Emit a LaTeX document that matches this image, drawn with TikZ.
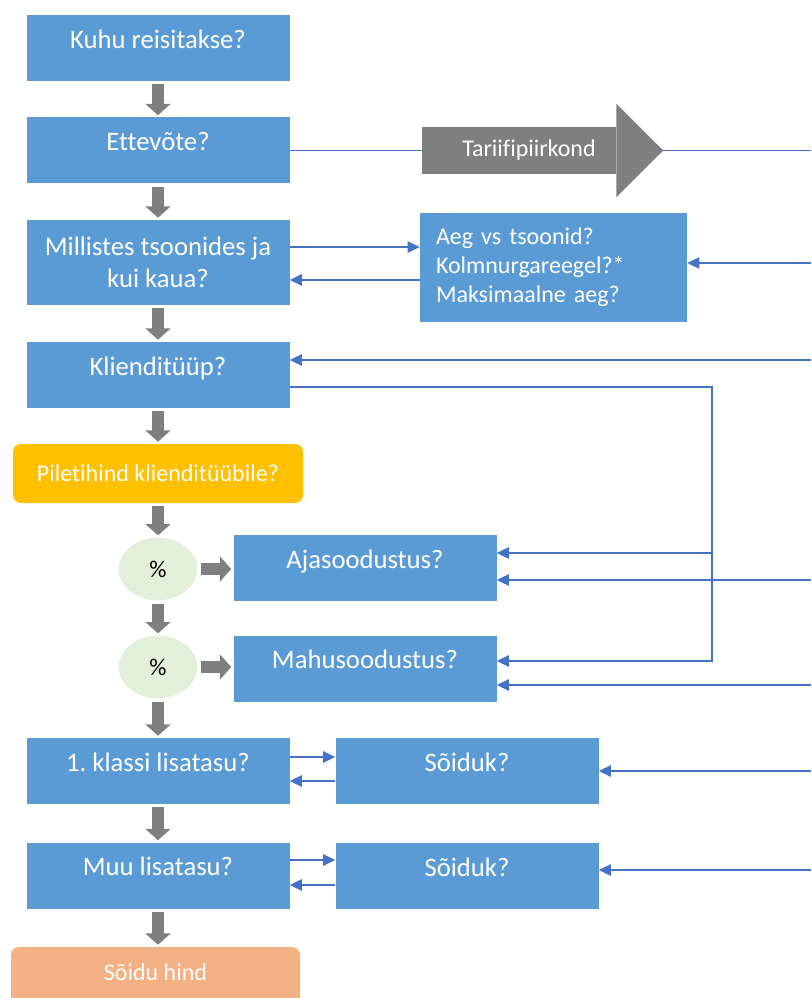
\documentclass[tikz,border=0pt]{standalone}
\usepackage{fontspec}
\setmainfont{Carlito}[Ligatures=NoCommon]
\usetikzlibrary{arrows.meta,shapes.geometric}
\definecolor{boxblue}{HTML}{5B9BD5}
\definecolor{lineblue}{HTML}{4472C4}
\definecolor{arrowgray}{HTML}{7F7F7F}
\definecolor{priceyellow}{HTML}{FFC000}
\definecolor{pricepeach}{HTML}{F4B183}
\definecolor{pctgreen}{HTML}{E2EFDA}
\frenchspacing

\begin{document}
\begin{tikzpicture}[x=0.75pt,y=-0.75pt,
	box/.style={fill=boxblue,text=white,inner sep=0pt,minimum width=197.25pt,font=\fontsize{20}{24}\selectfont},
	qbox/.style={box,text height=25pt,text depth=24.5pt},
	pct/.style={ellipse,fill=pctgreen,inner sep=0pt,minimum width=59pt,minimum height=47pt,font=\fontsize{18}{21}\selectfont},
	flow/.style={arrowgray,line width=9pt,-{Triangle[length=8.5pt,width=18.5pt]},shorten <=2.25pt,shorten >=1.5pt},
	feed/.style={lineblue,line width=1pt},
	feedto/.style={feed,-{Triangle[length=9pt,width=8.5pt]}}]
				\useasboundingbox (0,0) rectangle (811,998);
				\clip (0,0) rectangle (811,998);
				\node [qbox] (kuhu) at (158,48) {Kuhu reisitakse?};
				\node [qbox] (ettevote) at (158,150.5) {Ettevõte?};
				\node [box,align=center,minimum height=63.75pt] (tsoonid) at (158,262.5) {Millistes tsoonides ja\\kui kaua?};
				\node [qbox] (klient) at (158,375) {Klienditüüp?};
				\node [box,rounded corners=6pt,fill=priceyellow,minimum width=217.5pt,minimum height=44.25pt,font=\fontsize{18}{21}\selectfont] (pileti) at (158,473.5) {Piletihind klienditüübile?};
				\node [pct] (pct1) at (158,569) {\%};
				\node [qbox] (aja) at (365,568) {Ajasoodustus?};
				\node [pct] (pct2) at (158,667) {\%};
				\node [qbox] (mahu) at (365,668.5) {Mahusoodustus?};
				\node [qbox] (klass) at (158,771) {1. klassi lisatasu?};
				\node [qbox] (soiduk1) at (467,771) {Sõiduk?};
				\node [qbox] (muu) at (158,875.5) {Muu lisatasu?};
				\node [qbox] (soiduk2) at (467,876) {Sõiduk?};
				\node [qbox,rounded corners=6pt,fill=pricepeach,minimum width=216.75pt,text height=24.75pt,text depth=20.25pt,font=\fontsize{18}{21}\selectfont] (hind) at (155.5,977) {Sõidu hind};
				\node [box,align=left,text width=176.25pt,inner xsep=12pt,minimum height=81.75pt,font=\fontsize{18}{21.75}\selectfont] (aeg) at (553.5,267.5) {Aeg vs tsoonid?\\Kolmnurgareegel?*\\Maksimaalne aeg?};
				\node [fill=arrowgray,text=white,inner sep=0pt,minimum width=145.5pt,minimum height=35.25pt,font=\fontsize{18}{21}\selectfont] (tarif) at (519,150.5) {\hspace*{15pt}Tariifipiirkond};
				\coordinate (tarif tip) at ([xshift=35.25pt]tarif.east);
				\fill [arrowgray] ([yshift=17.25pt]tarif.north east) -- (tarif tip) -- ([yshift=-17.25pt]tarif.south east) -- cycle;
				\draw [flow] (kuhu) -- (ettevote);
				\draw [flow] (ettevote) -- (tsoonid);
				\draw [flow] (tsoonid) -- (klient);
				\draw [flow] (klient) -- (pileti);
				\draw [flow] (pileti) -- (pct1);
				\draw [flow] (pct1) -- (pct2);
				\draw [flow] (pct1) -- (pct1 -| aja.west);
				\draw [flow] (pct2) -- (pct2 -| mahu.west);
				\draw [flow] (pct2) -- (klass);
				\draw [flow] (klass) -- (muu);
				\draw [flow] (muu) -- (muu |- hind.north);
				\coordinate (e1) at (811,150.5);
				\coordinate (e2) at (811,263);
				\coordinate (e3) at (811,360);
				\coordinate (e4) at (811,580);
				\coordinate (e5) at (811,685);
				\coordinate (e6) at (811,771);
				\coordinate (e7) at (811,870);
				\coordinate (bend) at (712,661);
				\draw [feed] (ettevote) -- (tarif);
				\draw [feed] (tarif tip) -- (e1);
				\draw [feedto] ([yshift=11.6pt]tsoonid.east) -- ([yshift=11.6pt]tsoonid.east -| aeg.west);
				\draw [feedto] ([yshift=-13.1pt]tsoonid.east -| aeg.west) -- ([yshift=-13.1pt]tsoonid.east);
				\draw [feedto] (e2) -- (e2 -| aeg.east);
				\draw [feedto] (e3) -- (e3 -| klient.east);
				\draw [feedto] ([yshift=-9pt]klient.east) -| (bend) -- (bend -| mahu.east);
				\draw [feedto] ([yshift=11.25pt]aja.east -| bend) -- ([yshift=11.25pt]aja.east);
				\draw [feedto] (e4) -- (e4 -| aja.east);
				\draw [feedto] (e5) -- (e5 -| mahu.east);
				\draw [feedto] ([yshift=10.5pt]klass.east) -- ([yshift=10.5pt]klass.east -| soiduk1.west);
				\draw [feedto] ([yshift=-7.5pt]klass.east -| soiduk1.west) -- ([yshift=-7.5pt]klass.east);
				\draw [feedto] (e6) -- (e6 -| soiduk1.east);
				\draw [feedto] ([yshift=11.6pt]muu.east) -- ([yshift=11.6pt]muu.east -| soiduk2.west);
				\draw [feedto] ([yshift=-7.1pt]muu.east -| soiduk2.west) -- ([yshift=-7.1pt]muu.east);
				\draw [feedto] (e7) -- (e7 -| soiduk2.east);
			\end{tikzpicture}
\end{document}
